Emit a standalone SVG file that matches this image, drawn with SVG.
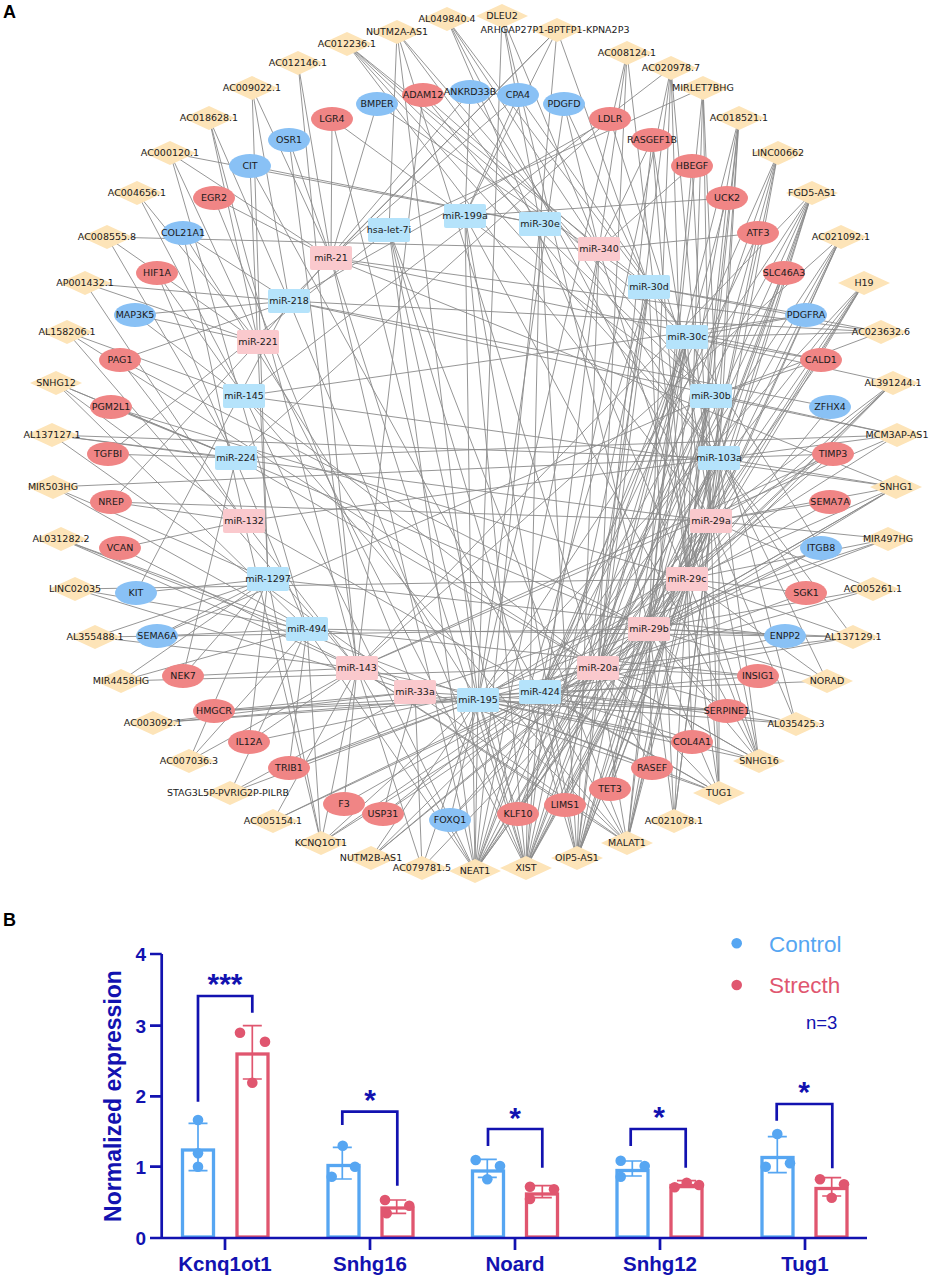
<svg xmlns="http://www.w3.org/2000/svg" xmlns:xlink="http://www.w3.org/1999/xlink" width="934" height="1279" viewBox="0 0 934 1279">
<style>
.e path{stroke:#8a8a8a;stroke-width:0.9;fill:none}
.t{font-family:"DejaVu Sans",sans-serif;font-size:9.5px;fill:#1a1a1a;text-anchor:middle}
.mb{fill:#B5E3FB}.mp{fill:#FAC9CD}.gr{fill:#F08585}.gb{fill:#89C1F5}.ln{fill:#FDE4B8}
.pl{font-family:"Liberation Sans",Arial,sans-serif;font-weight:bold;font-size:18px;fill:#000}
.ax{stroke:#1212B0;stroke-width:2.7;fill:none}
.br{stroke:#1212B0;stroke-width:2.7;fill:none}
.tk{font-family:"Liberation Sans",Arial,sans-serif;font-weight:bold;font-size:19px;fill:#1212B0;text-anchor:end}
.xl{font-family:"Liberation Sans",Arial,sans-serif;font-weight:bold;font-size:20.5px;fill:#1212B0;text-anchor:middle}
.st{font-family:"Liberation Sans",Arial,sans-serif;font-weight:bold;font-size:30px;fill:#1212B0;text-anchor:middle}
.bc{fill:#fff;stroke:#56A6F2;stroke-width:3.3}.bs{fill:#fff;stroke:#E0566F;stroke-width:3.3}
.ec{stroke:#56A6F2;stroke-width:1.7;fill:none}.es{stroke:#E0566F;stroke-width:1.7;fill:none}
.dc{fill:#56A6F2}.ds{fill:#E0566F}
</style>
<defs>
<path id="dia" d="M-26 0L0-12L26 0L0 12Z"/>
<ellipse id="gen" rx="21" ry="12"/>
<rect id="mir" x="-21" y="-12" width="42" height="24" rx="2"/>
</defs>
<rect width="934" height="1279" fill="#fff"/>
<text class="pl" x="3" y="18">A</text>
<g id="connectors" class="e">
<path d="M447 19L599 249M447 19L687 337M447 19L711 521M447 19L687 579"/>
<path d="M397 32L389 230M397 32L540 224M397 32L711 396M397 32L478 700M397 32L598 668"/>
<path d="M347 44L649 287M347 44L687 337M347 44L711 396M347 44L719 458M347 44L711 521"/>
<path d="M298 63L331 258M298 63L357 668"/>
<path d="M252 88L331 258M252 88L289 301M252 88L268 579"/>
<path d="M209 118L289 301M209 118L258 342M209 118L357 668"/>
<path d="M170 153L540 224M170 153L331 258M170 153L258 342M170 153L307 629"/>
<path d="M137 193L258 342M137 193L244 396"/>
<path d="M107 237L599 249M107 237L236 458M107 237L258 342"/>
<path d="M85 283L289 301M85 283L258 342M85 283L244 521"/>
<path d="M67 332L244 396M67 332L357 668M67 332L598 668"/>
<path d="M56 383L236 458M56 383L244 521M56 383L307 629M56 383L649 629"/>
<path d="M52 435L719 458M52 435L236 458M52 435L415 692M52 435L711 521"/>
<path d="M53 487L719 458M53 487L268 579M53 487L307 629"/>
<path d="M61 539L307 629M61 539L357 668M61 539L478 700"/>
<path d="M75 589L307 629M75 589L415 692M75 589L687 579"/>
<path d="M95 637L649 629M95 637L357 668M95 637L268 579"/>
<path d="M121 681L268 579M121 681L307 629M121 681L598 668"/>
<path d="M153 723L478 700M153 723L415 692M153 723L540 692"/>
<path d="M189 761L357 668M189 761L307 629M189 761L268 579"/>
<path d="M230 793L415 692M230 793L478 700M230 793L307 629"/>
<path d="M273 821L357 668M273 821L540 692M273 821L598 668"/>
<path d="M321 843L307 629M321 843L268 579M321 843L357 668M321 843L244 521M321 843L478 700M321 843L540 692M321 843L598 668"/>
<path d="M371 858L598 668M371 858L540 692M371 858L649 629M371 858L478 700"/>
<path d="M422 868L415 692M422 868L357 668M422 868L478 700M422 868L649 629"/>
<path d="M475 871L478 700M475 871L540 692M475 871L598 668M475 871L649 629M475 871L687 579M475 871L711 521M475 871L719 458M475 871L357 668M475 871L307 629M475 871L244 396M475 871L540 224M475 871L599 249M475 871L649 287M475 871L687 337M475 871L711 396M475 871L465 216M475 871L389 230M475 871L331 258"/>
<path d="M526 868L478 700M526 868L540 692M526 868L598 668M526 868L649 629M526 868L687 579M526 868L711 521M526 868L719 458M526 868L711 396M526 868L687 337M526 868L649 287M526 868L465 216M526 868L540 224M526 868L258 342M526 868L289 301M526 868L331 258M526 868L389 230M526 868L599 249"/>
<path d="M577 858L598 668M577 858L649 629M577 858L687 579M577 858L711 521M577 858L687 337M577 858L711 396M577 858L649 287M577 858L540 224M577 858L465 216M577 858L389 230M577 858L719 458M577 858L540 692M577 858L599 249"/>
<path d="M627 843L478 700M627 843L415 692M627 843L357 668M627 843L649 629M627 843L687 579M627 843L711 521M627 843L711 396M627 843L389 230M627 843L244 396M627 843L719 458M627 843L598 668M627 843L540 692M627 843L687 337"/>
<path d="M674 821L649 629M674 821L687 579M674 821L711 521M674 821L719 458M674 821L649 287"/>
<path d="M719 793L598 668M719 793L687 579M719 793L711 521M719 793L719 458M719 793L687 337M719 793L357 668M719 793L244 521M719 793L649 629M719 793L540 692M719 793L478 700"/>
<path d="M759 761L598 668M759 761L649 629M759 761L687 579M759 761L711 521M759 761L599 249M759 761L465 216M759 761L236 458M759 761L478 700M759 761L540 692M759 761L719 458"/>
<path d="M796 724L478 700M796 724L598 668M796 724L711 521M796 724L540 692M796 724L711 396"/>
<path d="M827 681L687 579M827 681L649 629M827 681L719 458M827 681L540 692"/>
<path d="M853 637L307 629M853 637L540 692M853 637L687 579M853 637L719 458M853 637L649 629M853 637L598 668"/>
<path d="M873 589L649 629M873 589L711 521M873 589L478 700"/>
<path d="M888 539L687 579M888 539L649 629M888 539L711 521M888 539L415 692"/>
<path d="M896 487L719 458M896 487L711 521M896 487L687 579M896 487L244 396M896 487L331 258M896 487L649 629M896 487L598 668M896 487L540 692"/>
<path d="M897 435L236 458M897 435L711 396M897 435L244 521M897 435L289 301M897 435L478 700M897 435L357 668"/>
<path d="M893 383L687 579M893 383L649 629M893 383L598 668M893 383L687 337M893 383L540 692M893 383L711 521"/>
<path d="M881 332L687 337M881 332L649 287M881 332L331 258M881 332L289 301M881 332L711 396"/>
<path d="M864 283L711 521M864 283L687 579M864 283L649 629M864 283L598 668M864 283L540 692M864 283L478 700"/>
<path d="M841 237L687 579M841 237L649 629M841 237L598 668M841 237L711 521M841 237L357 668M841 237L540 692"/>
<path d="M812 193L719 458M812 193L711 521M812 193L687 579M812 193L649 629M812 193L598 668M812 193L540 692M812 193L478 700M812 193L357 668"/>
<path d="M778 153L687 579M778 153L711 521M778 153L649 629M778 153L598 668M778 153L540 692"/>
<path d="M739 118L711 396M739 118L719 458M739 118L711 521M739 118L687 579M739 118L649 629M739 118L598 668"/>
<path d="M703 88L719 458M703 88L711 521M703 88L687 579M703 88L389 230M703 88L649 629"/>
<path d="M671 68L649 629M671 68L687 579M671 68L711 521M671 68L598 668M671 68L244 396M671 68L540 692"/>
<path d="M627 53L598 668M627 53L687 579M627 53L599 249M627 53L478 700"/>
<path d="M557 30L465 216M557 30L540 224M557 30L331 258M557 30L289 301M557 30L649 287"/>
<path d="M502 16L540 224M502 16L599 249M502 16L478 700M502 16L649 629"/>
<path d="M423 95L599 249M423 95L719 458M423 95L357 668"/>
<path d="M377 104L331 258M377 104L649 287"/>
<path d="M332 119L331 258M332 119L711 396M332 119L478 700"/>
<path d="M289 140L331 258M289 140L357 668"/>
<path d="M250 166L540 224M250 166L268 579M250 166L540 692"/>
<path d="M214 198L331 258M214 198L415 692"/>
<path d="M183 233L289 301M183 233L244 521M183 233L478 700"/>
<path d="M157 273L244 396M157 273L307 629"/>
<path d="M135 315L289 301M135 315L258 342M135 315L598 668"/>
<path d="M120 360L289 301M120 360L357 668M120 360L649 629"/>
<path d="M111 407L236 458M111 407L687 579"/>
<path d="M108 454L389 230M108 454L236 458"/>
<path d="M111 502L258 342M111 502L244 521M111 502L711 521"/>
<path d="M120 548L244 521M120 548L357 668"/>
<path d="M136 593L289 301M136 593L268 579"/>
<path d="M157 636L268 579M157 636L307 629M157 636L711 396"/>
<path d="M183 676L268 579M183 676L236 458M183 676L357 668"/>
<path d="M214 711L415 692M214 711L478 700M214 711L540 692"/>
<path d="M249 742L268 579M249 742L357 668M249 742L598 668"/>
<path d="M289 768L307 629M289 768L478 700M289 768L649 629"/>
<path d="M344 804L357 668M344 804L540 692"/>
<path d="M383 814L415 692M383 814L598 668M383 814L540 692"/>
<path d="M450 820L478 700M450 820L687 579M450 820L711 521"/>
<path d="M518 814L478 700M518 814L598 668M518 814L687 337M518 814L711 396M518 814L711 521"/>
<path d="M565 805L649 629M565 805L711 521M565 805L649 287M565 805L357 668"/>
<path d="M610 789L649 629M610 789L687 579M610 789L711 521M610 789L687 337"/>
<path d="M652 768L649 629M652 768L598 668M652 768L478 700"/>
<path d="M692 742L711 521M692 742L687 579M692 742L357 668M692 742L478 700"/>
<path d="M727 711L649 629M727 711L540 692M727 711L478 700M727 711L415 692"/>
<path d="M758 676L598 668M758 676L478 700M758 676L307 629"/>
<path d="M785 636L649 629M785 636L540 692M785 636L268 579"/>
<path d="M806 593L687 579M806 593L598 668M806 593L719 458"/>
<path d="M821 548L649 629M821 548L540 692M821 548L687 337"/>
<path d="M830 502L711 521M830 502L478 700"/>
<path d="M833 454L719 458M833 454L711 521M833 454L687 579M833 454L357 668"/>
<path d="M830 407L649 629M830 407L289 301"/>
<path d="M821 360L687 337M821 360L711 396M821 360L598 668M821 360L331 258"/>
<path d="M806 315L649 287M806 315L687 337M806 315L244 396"/>
<path d="M784 273L649 629M784 273L598 668"/>
<path d="M758 233L599 249M758 233L540 692M758 233L687 579"/>
<path d="M727 198L465 216M727 198L687 579M727 198L598 668"/>
<path d="M692 166L599 249M692 166L649 629M692 166L711 521"/>
<path d="M652 140L599 249M652 140L711 521M652 140L687 579M652 140L598 668"/>
<path d="M610 119L289 301M610 119L719 458M610 119L236 458"/>
<path d="M564 104L599 249M564 104L649 287M564 104L478 700"/>
<path d="M518 95L465 216M518 95L687 337M518 95L331 258"/>
<path d="M470 92L465 216M470 92L719 458M470 92L258 342"/>
</g>
<g id="nodes">
<g id="n-AL049840.4"><use href="#dia" x="447" y="19" class="ln"/><text class="t" x="447" y="22.4">AL049840.4</text></g>
<g id="n-DLEU2"><use href="#dia" x="502" y="16" class="ln"/><text class="t" x="502" y="19.4">DLEU2</text></g>
<g id="n-ARHGAP27P1-BPTFP1-KPNA2P3"><use href="#dia" x="557" y="30" class="ln"/><text class="t" x="555" y="33.4">ARHGAP27P1-BPTFP1-KPNA2P3</text></g>
<g id="n-NUTM2A-AS1"><use href="#dia" x="397" y="32" class="ln"/><text class="t" x="397" y="35.4">NUTM2A-AS1</text></g>
<g id="n-AC012236.1"><use href="#dia" x="347" y="44" class="ln"/><text class="t" x="347" y="47.4">AC012236.1</text></g>
<g id="n-AC012146.1"><use href="#dia" x="298" y="63" class="ln"/><text class="t" x="298" y="66.4">AC012146.1</text></g>
<g id="n-AC009022.1"><use href="#dia" x="252" y="88" class="ln"/><text class="t" x="252" y="91.4">AC009022.1</text></g>
<g id="n-AC018628.1"><use href="#dia" x="209" y="118" class="ln"/><text class="t" x="209" y="121.4">AC018628.1</text></g>
<g id="n-AC000120.1"><use href="#dia" x="170" y="153" class="ln"/><text class="t" x="170" y="156.4">AC000120.1</text></g>
<g id="n-AC004656.1"><use href="#dia" x="137" y="193" class="ln"/><text class="t" x="137" y="196.4">AC004656.1</text></g>
<g id="n-AC008555.8"><use href="#dia" x="107" y="237" class="ln"/><text class="t" x="107" y="240.4">AC008555.8</text></g>
<g id="n-AP001432.1"><use href="#dia" x="85" y="283" class="ln"/><text class="t" x="85" y="286.4">AP001432.1</text></g>
<g id="n-AL158206.1"><use href="#dia" x="67" y="332" class="ln"/><text class="t" x="67" y="335.4">AL158206.1</text></g>
<g id="n-SNHG12"><use href="#dia" x="56" y="383" class="ln"/><text class="t" x="56" y="386.4">SNHG12</text></g>
<g id="n-AL137127.1"><use href="#dia" x="52" y="435" class="ln"/><text class="t" x="52" y="438.4">AL137127.1</text></g>
<g id="n-MIR503HG"><use href="#dia" x="53" y="487" class="ln"/><text class="t" x="53" y="490.4">MIR503HG</text></g>
<g id="n-AL031282.2"><use href="#dia" x="61" y="539" class="ln"/><text class="t" x="61" y="542.4">AL031282.2</text></g>
<g id="n-LINC02035"><use href="#dia" x="75" y="589" class="ln"/><text class="t" x="75" y="592.4">LINC02035</text></g>
<g id="n-AL355488.1"><use href="#dia" x="95" y="637" class="ln"/><text class="t" x="95" y="640.4">AL355488.1</text></g>
<g id="n-MIR4458HG"><use href="#dia" x="121" y="681" class="ln"/><text class="t" x="121" y="684.4">MIR4458HG</text></g>
<g id="n-AC003092.1"><use href="#dia" x="153" y="723" class="ln"/><text class="t" x="153" y="726.4">AC003092.1</text></g>
<g id="n-AC007036.3"><use href="#dia" x="189" y="761" class="ln"/><text class="t" x="189" y="764.4">AC007036.3</text></g>
<g id="n-STAG3L5P-PVRIG2P-PILRB"><use href="#dia" x="230" y="793" class="ln"/><text class="t" x="228" y="796.4">STAG3L5P-PVRIG2P-PILRB</text></g>
<g id="n-AC005154.1"><use href="#dia" x="273" y="821" class="ln"/><text class="t" x="273" y="824.4">AC005154.1</text></g>
<g id="n-KCNQ1OT1"><use href="#dia" x="321" y="843" class="ln"/><text class="t" x="321" y="846.4">KCNQ1OT1</text></g>
<g id="n-NUTM2B-AS1"><use href="#dia" x="371" y="858" class="ln"/><text class="t" x="371" y="861.4">NUTM2B-AS1</text></g>
<g id="n-AC079781.5"><use href="#dia" x="422" y="868" class="ln"/><text class="t" x="422" y="871.4">AC079781.5</text></g>
<g id="n-NEAT1"><use href="#dia" x="475" y="871" class="ln"/><text class="t" x="475" y="874.4">NEAT1</text></g>
<g id="n-XIST"><use href="#dia" x="526" y="868" class="ln"/><text class="t" x="526" y="871.4">XIST</text></g>
<g id="n-OIP5-AS1"><use href="#dia" x="577" y="858" class="ln"/><text class="t" x="577" y="861.4">OIP5-AS1</text></g>
<g id="n-MALAT1"><use href="#dia" x="627" y="843" class="ln"/><text class="t" x="627" y="846.4">MALAT1</text></g>
<g id="n-AC021078.1"><use href="#dia" x="674" y="821" class="ln"/><text class="t" x="674" y="824.4">AC021078.1</text></g>
<g id="n-TUG1"><use href="#dia" x="719" y="793" class="ln"/><text class="t" x="719" y="796.4">TUG1</text></g>
<g id="n-SNHG16"><use href="#dia" x="759" y="761" class="ln"/><text class="t" x="759" y="764.4">SNHG16</text></g>
<g id="n-AL035425.3"><use href="#dia" x="796" y="724" class="ln"/><text class="t" x="796" y="727.4">AL035425.3</text></g>
<g id="n-NORAD"><use href="#dia" x="827" y="681" class="ln"/><text class="t" x="827" y="684.4">NORAD</text></g>
<g id="n-AL137129.1"><use href="#dia" x="853" y="637" class="ln"/><text class="t" x="853" y="640.4">AL137129.1</text></g>
<g id="n-AC005261.1"><use href="#dia" x="873" y="589" class="ln"/><text class="t" x="873" y="592.4">AC005261.1</text></g>
<g id="n-MIR497HG"><use href="#dia" x="888" y="539" class="ln"/><text class="t" x="888" y="542.4">MIR497HG</text></g>
<g id="n-SNHG1"><use href="#dia" x="896" y="487" class="ln"/><text class="t" x="896" y="490.4">SNHG1</text></g>
<g id="n-MCM3AP-AS1"><use href="#dia" x="897" y="435" class="ln"/><text class="t" x="897" y="438.4">MCM3AP-AS1</text></g>
<g id="n-AL391244.1"><use href="#dia" x="893" y="383" class="ln"/><text class="t" x="893" y="386.4">AL391244.1</text></g>
<g id="n-AC023632.6"><use href="#dia" x="881" y="332" class="ln"/><text class="t" x="881" y="335.4">AC023632.6</text></g>
<g id="n-H19"><use href="#dia" x="864" y="283" class="ln"/><text class="t" x="864" y="286.4">H19</text></g>
<g id="n-AC021092.1"><use href="#dia" x="841" y="237" class="ln"/><text class="t" x="841" y="240.4">AC021092.1</text></g>
<g id="n-FGD5-AS1"><use href="#dia" x="812" y="193" class="ln"/><text class="t" x="812" y="196.4">FGD5-AS1</text></g>
<g id="n-LINC00662"><use href="#dia" x="778" y="153" class="ln"/><text class="t" x="778" y="156.4">LINC00662</text></g>
<g id="n-AC018521.1"><use href="#dia" x="739" y="118" class="ln"/><text class="t" x="739" y="121.4">AC018521.1</text></g>
<g id="n-MIRLET7BHG"><use href="#dia" x="703" y="88" class="ln"/><text class="t" x="703" y="91.4">MIRLET7BHG</text></g>
<g id="n-AC020978.7"><use href="#dia" x="671" y="68" class="ln"/><text class="t" x="671" y="71.4">AC020978.7</text></g>
<g id="n-AC008124.1"><use href="#dia" x="627" y="53" class="ln"/><text class="t" x="627" y="56.4">AC008124.1</text></g>

<g id="n-ADAM12"><use href="#gen" x="423" y="95" class="gr"/><text class="t" x="423" y="98.4">ADAM12</text></g>
<g id="n-ANKRD33B"><use href="#gen" x="470" y="92" class="gb"/><text class="t" x="470" y="95.4">ANKRD33B</text></g>
<g id="n-CPA4"><use href="#gen" x="518" y="95" class="gb"/><text class="t" x="518" y="98.4">CPA4</text></g>
<g id="n-PDGFD"><use href="#gen" x="564" y="104" class="gb"/><text class="t" x="564" y="107.4">PDGFD</text></g>
<g id="n-BMPER"><use href="#gen" x="377" y="104" class="gb"/><text class="t" x="377" y="107.4">BMPER</text></g>
<g id="n-LGR4"><use href="#gen" x="332" y="119" class="gr"/><text class="t" x="332" y="122.4">LGR4</text></g>
<g id="n-OSR1"><use href="#gen" x="289" y="140" class="gb"/><text class="t" x="289" y="143.4">OSR1</text></g>
<g id="n-CIT"><use href="#gen" x="250" y="166" class="gb"/><text class="t" x="250" y="169.4">CIT</text></g>
<g id="n-EGR2"><use href="#gen" x="214" y="198" class="gr"/><text class="t" x="214" y="201.4">EGR2</text></g>
<g id="n-COL21A1"><use href="#gen" x="183" y="233" class="gb"/><text class="t" x="183" y="236.4">COL21A1</text></g>
<g id="n-HIF1A"><use href="#gen" x="157" y="273" class="gr"/><text class="t" x="157" y="276.4">HIF1A</text></g>
<g id="n-MAP3K5"><use href="#gen" x="135" y="315" class="gb"/><text class="t" x="135" y="318.4">MAP3K5</text></g>
<g id="n-PAG1"><use href="#gen" x="120" y="360" class="gr"/><text class="t" x="120" y="363.4">PAG1</text></g>
<g id="n-PGM2L1"><use href="#gen" x="111" y="407" class="gr"/><text class="t" x="111" y="410.4">PGM2L1</text></g>
<g id="n-TGFBI"><use href="#gen" x="108" y="454" class="gr"/><text class="t" x="108" y="457.4">TGFBI</text></g>
<g id="n-NREP"><use href="#gen" x="111" y="502" class="gr"/><text class="t" x="111" y="505.4">NREP</text></g>
<g id="n-VCAN"><use href="#gen" x="120" y="548" class="gr"/><text class="t" x="120" y="551.4">VCAN</text></g>
<g id="n-KIT"><use href="#gen" x="136" y="593" class="gb"/><text class="t" x="136" y="596.4">KIT</text></g>
<g id="n-SEMA6A"><use href="#gen" x="157" y="636" class="gb"/><text class="t" x="157" y="639.4">SEMA6A</text></g>
<g id="n-NEK7"><use href="#gen" x="183" y="676" class="gr"/><text class="t" x="183" y="679.4">NEK7</text></g>
<g id="n-HMGCR"><use href="#gen" x="214" y="711" class="gr"/><text class="t" x="214" y="714.4">HMGCR</text></g>
<g id="n-IL12A"><use href="#gen" x="249" y="742" class="gr"/><text class="t" x="249" y="745.4">IL12A</text></g>
<g id="n-TRIB1"><use href="#gen" x="289" y="768" class="gr"/><text class="t" x="289" y="771.4">TRIB1</text></g>
<g id="n-F3"><use href="#gen" x="344" y="804" class="gr"/><text class="t" x="344" y="807.4">F3</text></g>
<g id="n-USP31"><use href="#gen" x="383" y="814" class="gr"/><text class="t" x="383" y="817.4">USP31</text></g>
<g id="n-FOXQ1"><use href="#gen" x="450" y="820" class="gb"/><text class="t" x="450" y="823.4">FOXQ1</text></g>
<g id="n-KLF10"><use href="#gen" x="518" y="814" class="gr"/><text class="t" x="518" y="817.4">KLF10</text></g>
<g id="n-LIMS1"><use href="#gen" x="565" y="805" class="gr"/><text class="t" x="565" y="808.4">LIMS1</text></g>
<g id="n-TET3"><use href="#gen" x="610" y="789" class="gr"/><text class="t" x="610" y="792.4">TET3</text></g>
<g id="n-RASEF"><use href="#gen" x="652" y="768" class="gr"/><text class="t" x="652" y="771.4">RASEF</text></g>
<g id="n-COL4A1"><use href="#gen" x="692" y="742" class="gr"/><text class="t" x="692" y="745.4">COL4A1</text></g>
<g id="n-SERPINE1"><use href="#gen" x="727" y="711" class="gr"/><text class="t" x="727" y="714.4">SERPINE1</text></g>
<g id="n-INSIG1"><use href="#gen" x="758" y="676" class="gr"/><text class="t" x="758" y="679.4">INSIG1</text></g>
<g id="n-ENPP2"><use href="#gen" x="785" y="636" class="gb"/><text class="t" x="785" y="639.4">ENPP2</text></g>
<g id="n-SGK1"><use href="#gen" x="806" y="593" class="gr"/><text class="t" x="806" y="596.4">SGK1</text></g>
<g id="n-ITGB8"><use href="#gen" x="821" y="548" class="gb"/><text class="t" x="821" y="551.4">ITGB8</text></g>
<g id="n-SEMA7A"><use href="#gen" x="830" y="502" class="gr"/><text class="t" x="830" y="505.4">SEMA7A</text></g>
<g id="n-TIMP3"><use href="#gen" x="833" y="454" class="gr"/><text class="t" x="833" y="457.4">TIMP3</text></g>
<g id="n-ZFHX4"><use href="#gen" x="830" y="407" class="gb"/><text class="t" x="830" y="410.4">ZFHX4</text></g>
<g id="n-CALD1"><use href="#gen" x="821" y="360" class="gr"/><text class="t" x="821" y="363.4">CALD1</text></g>
<g id="n-PDGFRA"><use href="#gen" x="806" y="315" class="gb"/><text class="t" x="806" y="318.4">PDGFRA</text></g>
<g id="n-SLC46A3"><use href="#gen" x="784" y="273" class="gr"/><text class="t" x="784" y="276.4">SLC46A3</text></g>
<g id="n-ATF3"><use href="#gen" x="758" y="233" class="gr"/><text class="t" x="758" y="236.4">ATF3</text></g>
<g id="n-UCK2"><use href="#gen" x="727" y="198" class="gr"/><text class="t" x="727" y="201.4">UCK2</text></g>
<g id="n-HBEGF"><use href="#gen" x="692" y="166" class="gr"/><text class="t" x="692" y="169.4">HBEGF</text></g>
<g id="n-RASGEF1B"><use href="#gen" x="652" y="140" class="gr"/><text class="t" x="652" y="143.4">RASGEF1B</text></g>
<g id="n-LDLR"><use href="#gen" x="610" y="119" class="gr"/><text class="t" x="610" y="122.4">LDLR</text></g>

<g id="n-hsa-let-7i"><use href="#mir" x="389" y="230" class="mb"/><text class="t" x="389" y="233.4">hsa-let-7i</text></g>
<g id="n-miR-199a"><use href="#mir" x="465" y="216" class="mb"/><text class="t" x="465" y="219.4">miR-199a</text></g>
<g id="n-miR-30e"><use href="#mir" x="540" y="224" class="mb"/><text class="t" x="540" y="227.4">miR-30e</text></g>
<g id="n-miR-340"><use href="#mir" x="599" y="249" class="mp"/><text class="t" x="599" y="252.4">miR-340</text></g>
<g id="n-miR-30d"><use href="#mir" x="649" y="287" class="mb"/><text class="t" x="649" y="290.4">miR-30d</text></g>
<g id="n-miR-30c"><use href="#mir" x="687" y="337" class="mb"/><text class="t" x="687" y="340.4">miR-30c</text></g>
<g id="n-miR-30b"><use href="#mir" x="711" y="396" class="mb"/><text class="t" x="711" y="399.4">miR-30b</text></g>
<g id="n-miR-103a"><use href="#mir" x="719" y="458" class="mb"/><text class="t" x="719" y="461.4">miR-103a</text></g>
<g id="n-miR-29a"><use href="#mir" x="711" y="521" class="mp"/><text class="t" x="711" y="524.4">miR-29a</text></g>
<g id="n-miR-29c"><use href="#mir" x="687" y="579" class="mp"/><text class="t" x="687" y="582.4">miR-29c</text></g>
<g id="n-miR-29b"><use href="#mir" x="649" y="629" class="mp"/><text class="t" x="649" y="632.4">miR-29b</text></g>
<g id="n-miR-20a"><use href="#mir" x="598" y="668" class="mp"/><text class="t" x="598" y="671.4">miR-20a</text></g>
<g id="n-miR-424"><use href="#mir" x="540" y="692" class="mb"/><text class="t" x="540" y="695.4">miR-424</text></g>
<g id="n-miR-195"><use href="#mir" x="478" y="700" class="mb"/><text class="t" x="478" y="703.4">miR-195</text></g>
<g id="n-miR-33a"><use href="#mir" x="415" y="692" class="mp"/><text class="t" x="415" y="695.4">miR-33a</text></g>
<g id="n-miR-143"><use href="#mir" x="357" y="668" class="mp"/><text class="t" x="357" y="671.4">miR-143</text></g>
<g id="n-miR-494"><use href="#mir" x="307" y="629" class="mb"/><text class="t" x="307" y="632.4">miR-494</text></g>
<g id="n-miR-1297"><use href="#mir" x="268" y="579" class="mb"/><text class="t" x="268" y="582.4">miR-1297</text></g>
<g id="n-miR-132"><use href="#mir" x="244" y="521" class="mp"/><text class="t" x="244" y="524.4">miR-132</text></g>
<g id="n-miR-224"><use href="#mir" x="236" y="458" class="mb"/><text class="t" x="236" y="461.4">miR-224</text></g>
<g id="n-miR-145"><use href="#mir" x="244" y="396" class="mb"/><text class="t" x="244" y="399.4">miR-145</text></g>
<g id="n-miR-221"><use href="#mir" x="258" y="342" class="mp"/><text class="t" x="258" y="345.4">miR-221</text></g>
<g id="n-miR-218"><use href="#mir" x="289" y="301" class="mb"/><text class="t" x="289" y="304.4">miR-218</text></g>
<g id="n-miR-21"><use href="#mir" x="331" y="258" class="mp"/><text class="t" x="331" y="261.4">miR-21</text></g>
</g>

<g id="chart">
<text class="pl" x="3" y="926">B</text>
<g id="bars">
<rect class="bc" x="182.5" y="1150" width="31" height="87"/>
<rect class="bs" x="237" y="1054" width="31" height="183"/>
<rect class="bc" x="328" y="1165.5" width="31" height="71.5"/>
<rect class="bs" x="382" y="1208" width="31" height="29"/>
<rect class="bc" x="472.5" y="1171" width="31" height="66"/>
<rect class="bs" x="526.5" y="1194" width="31" height="43"/>
<rect class="bc" x="617" y="1170.5" width="31" height="66.5"/>
<rect class="bs" x="671" y="1185.5" width="31" height="51.5"/>
<rect class="bc" x="762" y="1157.5" width="31" height="79.5"/>
<rect class="bs" x="816" y="1188.5" width="31" height="48.5"/>
</g>
<g id="errorbars">
<path class="ec" d="M198 1123.3V1170.7M188.5 1123.3H207.5M188.5 1170.7H207.5"/>
<path class="es" d="M252.3 1025.7V1079M242.8 1025.7H261.8M242.8 1079H261.8"/>
<path class="ec" d="M342.3 1147.3V1179M332.8 1147.3H351.8M332.8 1179H351.8"/>
<path class="es" d="M396.7 1200V1213.3M387.2 1200H406.2M387.2 1213.3H406.2"/>
<path class="ec" d="M487.3 1159.3V1177.3M477.8 1159.3H496.8M477.8 1177.3H496.8"/>
<path class="es" d="M542.3 1185.7V1197.7M532.8 1185.7H551.8M532.8 1197.7H551.8"/>
<path class="ec" d="M632.3 1161V1176M622.8 1161H641.8M622.8 1176H641.8"/>
<path class="es" d="M686.5 1180.7V1187.3M677 1180.7H696M677 1187.3H696"/>
<path class="ec" d="M777.3 1136.7V1172.7M767.8 1136.7H786.8M767.8 1172.7H786.8"/>
<path class="es" d="M831.7 1177.7V1196M822.2 1177.7H841.2M822.2 1196H841.2"/>
</g>
<g id="dots">
<circle class="dc" cx="198" cy="1120" r="5.3"/><circle class="dc" cx="198" cy="1153.3" r="5.3"/><circle class="dc" cx="198" cy="1166.7" r="5.3"/>
<circle class="ds" cx="240" cy="1032.7" r="5.3"/><circle class="ds" cx="265" cy="1041.7" r="5.3"/><circle class="ds" cx="252.3" cy="1082.7" r="5.3"/>
<circle class="dc" cx="342.7" cy="1145.7" r="5.3"/><circle class="dc" cx="331.7" cy="1176.7" r="5.3"/><circle class="dc" cx="355" cy="1166.7" r="5.3"/>
<circle class="ds" cx="385" cy="1200" r="5.3"/><circle class="ds" cx="409.3" cy="1205.7" r="5.3"/><circle class="ds" cx="386.7" cy="1213.3" r="5.3"/>
<circle class="dc" cx="475.7" cy="1160" r="5.3"/><circle class="dc" cx="500" cy="1166" r="5.3"/><circle class="dc" cx="487.3" cy="1179.3" r="5.3"/>
<circle class="ds" cx="530" cy="1186.7" r="5.3"/><circle class="ds" cx="554" cy="1189.3" r="5.3"/><circle class="ds" cx="530" cy="1199" r="5.3"/>
<circle class="dc" cx="620.7" cy="1160.7" r="5.3"/><circle class="dc" cx="644.7" cy="1166" r="5.3"/><circle class="dc" cx="620.7" cy="1176.7" r="5.3"/>
<circle class="ds" cx="674.7" cy="1187.3" r="5.3"/><circle class="ds" cx="686.7" cy="1182.7" r="5.3"/><circle class="ds" cx="699" cy="1185" r="5.3"/>
<circle class="dc" cx="777.3" cy="1134" r="5.3"/><circle class="dc" cx="765.7" cy="1166.7" r="5.3"/><circle class="dc" cx="790" cy="1163.3" r="5.3"/>
<circle class="ds" cx="820" cy="1179.3" r="5.3"/><circle class="ds" cx="844" cy="1184.3" r="5.3"/><circle class="ds" cx="831.7" cy="1197.7" r="5.3"/>
</g>
<g id="axes">
<path class="ax" d="M161.7 954V1238M150 954H161.7M150 1025.7H161.7M150 1096.3H161.7M150 1166.7H161.7M150 1238H867"/>
<path class="ax" d="M225 1238V1250M370 1238V1250M515 1238V1250M660 1238V1250M805 1238V1250"/>
<text class="tk" x="146" y="961">4</text>
<text class="tk" x="146" y="1032.7">3</text>
<text class="tk" x="146" y="1103.3">2</text>
<text class="tk" x="146" y="1173.7">1</text>
<text class="tk" x="146" y="1244.7">0</text>
<text class="xl" x="225" y="1270.5">Kcnq1ot1</text>
<text class="xl" x="370" y="1270.5">Snhg16</text>
<text class="xl" x="515" y="1270.5">Noard</text>
<text class="xl" x="660" y="1270.5">Snhg12</text>
<text class="xl" x="805" y="1270.5">Tug1</text>
<text transform="translate(120.5 1096) rotate(-90)" font-family="Liberation Sans, Arial, sans-serif" font-weight="bold" font-size="23" fill="#1212B0" text-anchor="middle">Normalized expression</text>
</g>
<g id="significance">
<path class="br" d="M198 1101.7V996H252.3V1012.7"/>
<text class="st" x="225" y="994">***</text>
<path class="br" d="M342.3 1125V1111.7H397.3V1185.7"/>
<text class="st" x="370" y="1109.5">*</text>
<path class="br" d="M488 1146V1129H542.3V1167.7"/>
<text class="st" x="515" y="1127.5">*</text>
<path class="br" d="M630.7 1146V1129H685.7V1167.7"/>
<text class="st" x="659" y="1126.5">*</text>
<path class="br" d="M776.7 1120.7V1104H832.3V1168.3"/>
<text class="st" x="804" y="1102">*</text>
</g>
<g id="legend">
<circle class="dc" cx="736.7" cy="943.3" r="5.3"/>
<text x="769" y="951.7" font-family="Liberation Sans, Arial, sans-serif" font-size="22.5" fill="#56A6F2">Control</text>
<circle class="ds" cx="736.7" cy="985" r="5.3"/>
<text x="769" y="993.3" font-family="Liberation Sans, Arial, sans-serif" font-size="22.5" fill="#E0566F">Strecth</text>
<text x="806" y="1029" font-family="Liberation Sans, Arial, sans-serif" font-size="18.5" fill="#1212B0">n=3</text>
</g>
</g>
</svg>
